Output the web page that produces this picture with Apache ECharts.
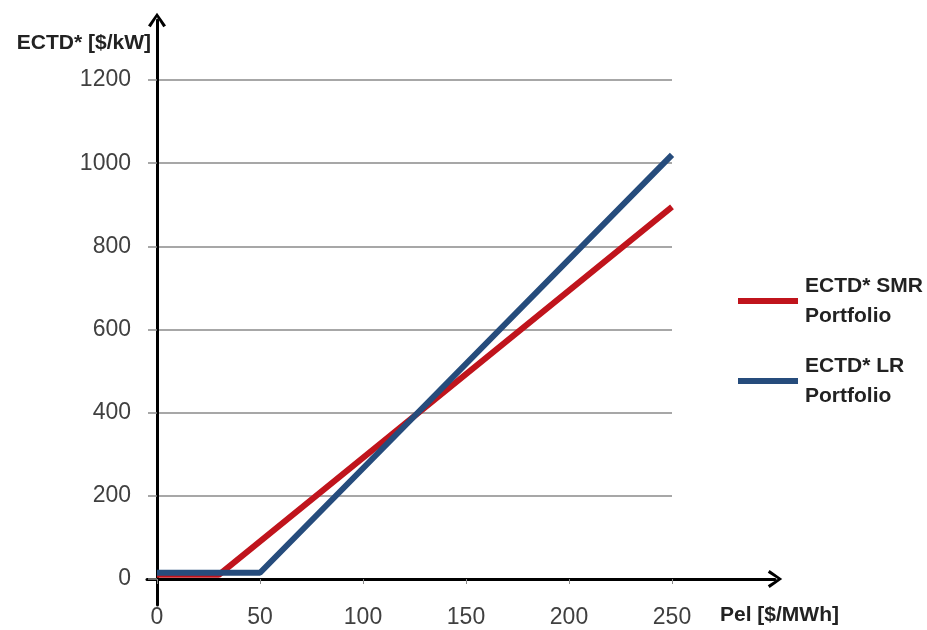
<!DOCTYPE html>
<html>
<head>
<meta charset="utf-8">
<script src="https://cdn.jsdelivr.net/npm/echarts@6/dist/echarts.min.js"></script>
<style>
  html, body { margin: 0; padding: 0; background: #ffffff; }
  #chart { width: 927px; height: 630px; }
</style>
</head>
<body>
<div id="chart"></div>
<script>
// Electricity price (Pel, $/MWh) at each vertex of the two break-even curves
const smrPrice = [0, 30, 250];
const smrEctd  = [10, 10, 895];
const lrPrice  = [0, 50, 250];
const lrEctd   = [15, 15, 1020];

const seriesNames = ['ECTD* SMR\nPortfolio', 'ECTD* LR\nPortfolio'];
const xTicks = [0, 50, 100, 150, 200, 250];
const yTicks = [0, 200, 400, 600, 800, 1000, 1200];

const pairs = (xs, ys) => xs.map((x, i) => [x, ys[i]]);

// open chevron used as the arrow head at the end of both axes
const chevron = 'path://M0,14 L10,0 L20,14 L17,16 L10,5 L3,16 Z';

const labelFont = 'Liberation Sans';
const chart = echarts.init(document.getElementById('chart'), null, { renderer: 'canvas' });

chart.setOption({
  backgroundColor: '#ffffff',
  animation: false,
  textStyle: { fontFamily: labelFont },
  grid: [
    // plotting area
    { left: 157, right: 255, top: 80, bottom: 51 },
    // frame carrying the long arrowed axis lines (pixel-unit scales)
    { left: 147, right: 152, top: 20, bottom: 25 }
  ],
  legend: {
    orient: 'vertical',
    left: 733,
    top: 266,
    itemWidth: 60,
    itemHeight: 6,
    itemGap: 20,
    icon: 'rect',
    data: seriesNames,
    textStyle: {
      fontFamily: labelFont,
      fontWeight: 'bold',
      fontSize: 21,
      lineHeight: 30,
      color: '#222222',
      padding: [0, 0, 0, 2]
    }
  },
  xAxis: [
    {
      gridIndex: 0,
      type: 'value',
      min: xTicks[0],
      max: xTicks[xTicks.length - 1],
      interval: xTicks[1] - xTicks[0],
      name: 'Pel [$/MWh]',
      nameLocation: 'end',
      nameGap: 48,
      nameTextStyle: {
        fontFamily: labelFont,
        fontWeight: 'bold',
        fontSize: 21,
        color: '#222222',
        align: 'left',
        verticalAlign: 'top',
        padding: [26, 0, 0, 0]
      },
      axisLine: { show: false },
      axisTick: { show: true, length: 5, lineStyle: { color: '#8a8a8a', width: 1 } },
      axisLabel: { fontFamily: labelFont, fontSize: 23, color: '#404040', margin: 27,
                   formatter: v => String(v) },
      splitLine: { show: false }
    },
    {
      gridIndex: 1,
      type: 'value',
      min: -10,
      max: 618,
      axisLine: {
        show: true,
        onZero: true,
        symbol: ['none', chevron],
        symbolSize: [18, 17],
        lineStyle: { color: '#000000', width: 3 }
      },
      axisTick: { show: false },
      axisLabel: { show: false },
      splitLine: { show: false }
    }
  ],
  yAxis: [
    {
      gridIndex: 0,
      type: 'value',
      min: yTicks[0],
      max: yTicks[yTicks.length - 1],
      interval: yTicks[1] - yTicks[0],
      name: 'ECTD* [$/kW]',
      nameLocation: 'end',
      nameGap: 26,
      nameTextStyle: {
        fontFamily: labelFont,
        fontWeight: 'bold',
        fontSize: 21,
        color: '#222222',
        align: 'right',
        padding: [0, 6, 0, 0]
      },
      axisLine: { show: false },
      axisTick: { show: true, length: 9, lineStyle: { color: '#8a8a8a', width: 1.5 } },
      axisLabel: { fontFamily: labelFont, fontSize: 23, color: '#404040', margin: 26,
                   formatter: v => String(v) },
      splitLine: { show: true, lineStyle: { color: '#8a8a8a', width: 1.5 } }
    },
    {
      gridIndex: 1,
      type: 'value',
      min: -26,
      max: 559,
      axisLine: {
        show: true,
        onZero: true,
        symbol: ['none', chevron],
        symbolSize: [18, 17],
        lineStyle: { color: '#000000', width: 3 }
      },
      axisTick: { show: false },
      axisLabel: { show: false },
      splitLine: { show: false }
    }
  ],
  series: [
    {
      name: seriesNames[0],
      type: 'line',
      xAxisIndex: 0,
      yAxisIndex: 0,
      showSymbol: false,
      color: '#c0141c',
      lineStyle: { width: 6, color: '#c0141c', cap: 'butt' },
      data: pairs(smrPrice, smrEctd)
    },
    {
      name: seriesNames[1],
      type: 'line',
      xAxisIndex: 0,
      yAxisIndex: 0,
      showSymbol: false,
      color: '#264c7c',
      lineStyle: { width: 6, color: '#264c7c', cap: 'butt' },
      data: pairs(lrPrice, lrEctd)
    }
  ]
});
</script>
</body>
</html>
